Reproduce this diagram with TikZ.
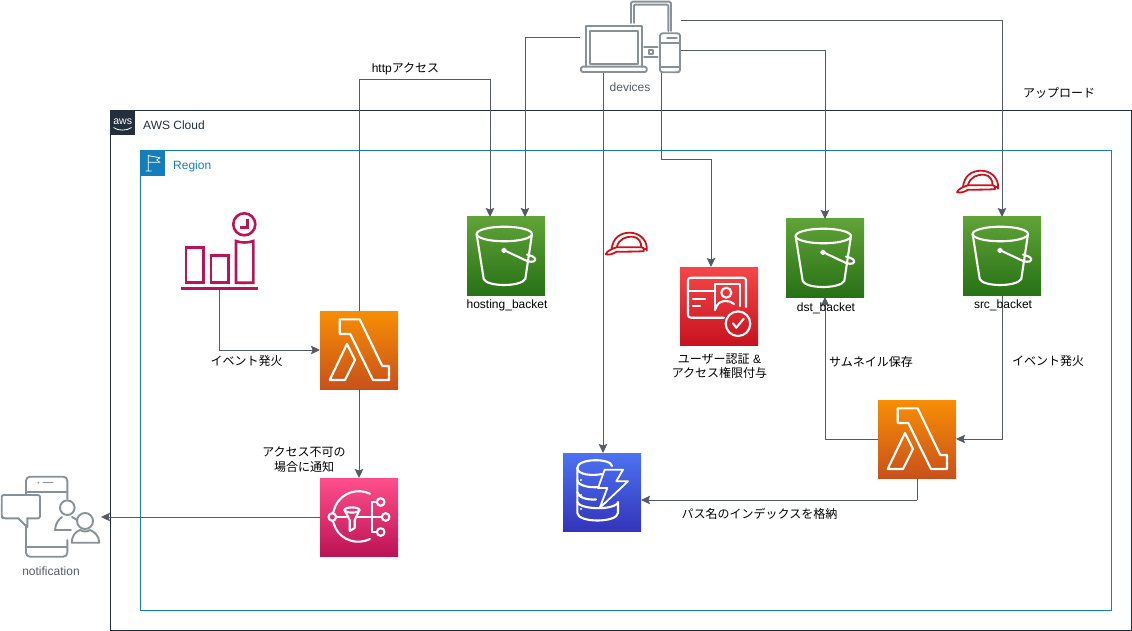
\documentclass[tikz,border=0pt]{standalone}
\usepackage{fontspec}
\setmainfont{Liberation Sans}
\newfontfamily\jp{Noto Sans CJK JP}
\usetikzlibrary{arrows.meta,calc}
\definecolor{awsdark}{HTML}{232F3E}
\definecolor{regionblue}{HTML}{147EBA}
\definecolor{conn}{HTML}{545B64}
\definecolor{icongray}{HTML}{879196}
\definecolor{crim}{HTML}{BC1356}
\definecolor{helm}{HTML}{D0111B}
\tikzset{
  svc/.style={minimum width=78,minimum height=78,inner sep=0,outer sep=0,anchor=north west,shading angle=0},
  wl/.style={draw=white,line width=2.1,line join=round,line cap=round},
  gl/.style={draw=icongray,line width=1.9,line join=round,line cap=round},
  cl/.style={draw=crim,line width=2.6,line join=miter},
  hl/.style={draw=helm,line width=1.8,line join=round,line cap=round},
  lab/.style={font=\fontsize{12}{14.5}\selectfont,text=black,inner sep=0,align=center},
  glab/.style={font=\fontsize{12}{15}\selectfont,text=conn,inner sep=0},
  link/.style={draw=conn,line width=1,-{Stealth[length=9,width=8.5,inset=1.5]}},
  plainlink/.style={draw=conn,line width=1},
  lambdaicon/.pic={
    \draw[wl] (19.7,8.3)--(39.7,8.3)--(62.3,55)--(69,55)--(69,69)--(53,69)--(30.3,23)--(19.7,23)--cycle;
    \draw[wl] (27,33)--(35,49)--(25,69)--(9.7,69)--cycle;
  },
  bucketicon/.pic={
    \draw[wl] (37.3,17) ellipse (27.7 and 7.3);
    \draw[wl] (9.6,17)--(16.7,62) .. controls (20,70) and (54,70) .. (58.3,62)--(65,17);
    \draw[wl] (37,33.3) circle (1.8);
    \draw[wl] (38.8,34) -- (60,44) .. controls (66,46) and (69,44) .. (68,41.5) .. controls (67,39.5) and (62,38) .. (60,37.5);
  },
  snsicon/.pic={
    \draw[wl] (50,15.7) .. controls (38,10) and (22,14) .. (15.5,28) .. controls (14.5,30.5) and (13.5,33) .. (13,35);
    \draw[wl] (50,61) .. controls (38,67) and (22,63) .. (15.5,50) .. controls (14.5,47.5) and (13.5,45) .. (13,43);
    \draw[wl] (12.3,39) circle (3.8);
    \draw[wl] (16.5,39)--(26,39);
    \draw[wl] (32,32) ellipse (7.5 and 2.6);
    \draw[wl] (24.5,32)--(29.7,42)--(29.7,53)--(34.7,50)--(34.7,42)--(39.5,32);
    \draw[wl] (37,39)--(61,39);
    \draw[wl] (52.3,24)--(52.3,54);
    \draw[wl] (52.3,24)--(56.5,24);
    \draw[wl] (52.3,54)--(56.5,54);
    \draw[wl] (60.7,24) circle (3.8);
    \draw[wl] (65.7,39) circle (3.8);
    \draw[wl] (60.7,54) circle (3.8);
  },
  dynamoicon/.pic={
    \draw[wl] (14.3,15) .. controls (14.3,5) and (48,5) .. (49,13);
    \draw[wl] (14.3,15) .. controls (14.3,22) and (30,23) .. (39,21);
    \draw[wl] (14.3,15)--(14.3,60) .. controls (15,70) and (54,70) .. (55,60)--(55,49);
    \draw[wl] (14.3,27) .. controls (15,33) and (27,35) .. (36,34);
    \draw[wl] (14.3,39) .. controls (15,45) and (25,47) .. (33,46.5);
    \draw[wl] (14.3,49) .. controls (16,56) and (48,58) .. (55,50);
    \fill[white] (18,27) circle (1.2) (18,42) circle (1.2) (18,56) circle (1.2);
    \draw[wl,line width=1.8] (41.7,16.7)--(60,16.7)--(53.3,28.3)--(65,28.3)--(36.7,55)--(44.3,35)--(35,35)--cycle;
  },
  cognitoicon/.pic={
    \draw[wl] (44,50.7)--(11,50.7) .. controls (9,50.7) and (8,49.7) .. (8,48)--(8,13.5) .. controls (8,11.7) and (9,10.7) .. (11,10.7)--(63,10.7) .. controls (65,10.7) and (66,11.7) .. (66,13.5)--(66,40);
    \draw[wl] (8,24)--(35,24);
    \draw[wl] (13,32)--(25,32);
    \draw[wl] (13,39)--(20,39);
    \draw[wl] (35,43)--(35,17)--(60,17)--(60,39);
    \draw[wl] (46.3,25.7) circle (5);
    \draw[wl] (35.5,42) .. controls (37,36) and (41,34) .. (46,34) .. controls (49,34) and (52,35) .. (54,37);
    \draw[wl] (58,56.7) circle (12.3);
    \draw[wl] (53,56.3)--(56.3,60.7)--(63.7,51.7);
  },
  helmeticon/.pic={
    \draw[hl] (6,16.5) .. controls (7,5) and (15,0) .. (24,0) .. controls (33,0) and (40,6) .. (41,14)--(41,18);
    \draw[hl] (11,14.5) .. controls (13,6) and (21,3.5) .. (27,4) .. controls (33,4.5) and (36,10) .. (35.5,14.5);
    \draw[hl] (0,21.5) .. controls (2,17.5) and (6,16.5) .. (11,14.5)--(35.5,14.5)--(38,15.5)--(38,18.5) .. controls (28,19) and (18,19) .. (11,19) .. controls (7,21.5) and (3,22.5) .. (0,21.5);
    \draw[hl] (38,16)--(41,16);
  }
}
\begin{document}
\begin{tikzpicture}[x=1pt,y=-1pt]
\useasboundingbox (0,0) rectangle (1132,631);
% groups
\node[draw=awsdark,line width=1,minimum width=1021,minimum height=520,inner sep=0,outer sep=0,anchor=north west] (cloud) at (110.5,110.5) {};
\node[draw=regionblue,line width=1,minimum width=971,minimum height=459,inner sep=0,outer sep=0,anchor=north west] (region) at (140.5,151) {};
\node[fill=awsdark,minimum size=25,inner sep=0,anchor=north west] (awslogo) at (110,110) {\textcolor{white}{\fontsize{10.5}{10}\selectfont\raisebox{2.5pt}{aws}}};
\draw[white,line width=0.8] (113.5,127.5) .. controls (118,131) and (127,131) .. (131.5,127.5);
\node[fill=regionblue,minimum size=25,inner sep=0,anchor=north west] (flag) at (140,151) {};
\draw[white,line width=0.8,line join=round] (148.3,155) -- (148.3,171) (145.7,171)--(151.7,171) (148.3,155.7)--(160,157.7)--(156.7,160)--(160,162.3)--(148.3,162.3);
\node[glab,text=awsdark,anchor=west] (cloudlab) at (143,125.2) {AWS Cloud};
\node[glab,text=regionblue,anchor=west] (regionlab) at (173,166) {Region};

% service boxes
\node[svc,bottom color={rgb,255:red,200;green,81;blue,27},top color={rgb,255:red,247;green,142;blue,4}] (lam1) at (320,311) {};
\node[svc,bottom color={rgb,255:red,200;green,81;blue,27},top color={rgb,255:red,247;green,142;blue,4}] (lam2) at (878,400) {};
\node[svc,bottom color={rgb,255:red,188;green,19;blue,86},top color={rgb,255:red,255;green,79;blue,139}] (sns) at (320,478) {};
\node[svc,bottom color={rgb,255:red,51;green,52;blue,185},top color={rgb,255:red,77;green,114;blue,243}] (dyn) at (563,453) {};
\node[svc,bottom color={rgb,255:red,199;green,19;blue,31},top color={rgb,255:red,245;green,71;blue,73}] (cog) at (680,267) {};
\node[svc,bottom color={rgb,255:red,39;green,113;blue,22},top color={rgb,255:red,96;green,163;blue,55}] (host) at (467,217) {};
\node[svc,bottom color={rgb,255:red,39;green,113;blue,22},top color={rgb,255:red,96;green,163;blue,55}] (dst) at (786,219) {};
\node[svc,bottom color={rgb,255:red,39;green,113;blue,22},top color={rgb,255:red,96;green,163;blue,55}] (src) at (963,217) {};
\pic at (lam1.north west) {lambdaicon};
\pic at (lam2.north west) {lambdaicon};
\pic at (sns.north west) {snsicon};
\pic at (dyn.north west) {dynamoicon};
\pic at (cog.north west) {cognitoicon};
\pic at (host.north west) {bucketicon};
\pic at (dst.north west) {bucketicon};
\pic at (src.north west) {bucketicon};

% devices icon
\node[minimum width=101,minimum height=72.5,inner sep=0,outer sep=0,anchor=north west] (devices) at (580,0.5) {};
\draw[gl] (586,66.7)--(586,26)--(641.7,26)--(641.7,66.7);
\draw[gl] (590,64)--(590,30.7)--(637.7,30.7)--(637.7,64)--cycle;
\draw[gl,rounded corners=1.5] (581,66.7) rectangle (646.7,72);
\draw[gl,rounded corners=1.5] (631,23)--(631,1.7)--(671,1.7)--(671,31);
\draw[gl,rounded corners=1] (634,23)--(634,4.7)--(668.3,4.7)--(668.3,31);
\draw[gl,rounded corners=2.5] (660,33.3) rectangle (680,72.3);
\draw[gl] (660,42.7)--(680,42.7) (660,66.7)--(680,66.7);
\draw[gl,line width=1.3] (667,38)--(677,38);
\draw[gl] (644,46.7)--(657.7,46.7) (644,56.7)--(657.7,56.7);
\draw[gl,line width=1.2] (649,50) rectangle (653,54);

% event icon
\node[minimum width=78,minimum height=78,inner sep=0,outer sep=0,anchor=north west] (event) at (180.5,212) {};
\draw[cl] (186,247.7) rectangle (203.3,282.7);
\draw[cl] (211,255.7) rectangle (228.3,282.7);
\draw[cl] (236,241) .. controls (241,243) and (248,243) .. (253.3,241)--(253.3,282.7)--(236,282.7)--cycle;
\draw[cl,line width=2.8] (180.7,288.7)--(258.3,288.7);
\draw[cl] (244.3,224.3) circle (11);
\draw[cl] (247.7,219)--(247.7,227.7)--(240,227.7);

% notification icon
\node[minimum width=100,minimum height=82,inner sep=0,outer sep=0,anchor=north west] (notif) at (1,476) {};
\draw[gl,rounded corners=4] (26,495)--(26,476.7)--(67.3,476.7)--(67.3,499);
\draw[gl,rounded corners=4] (26,525)--(26,556.7)--(67.3,556.7)--(67.3,540);
\draw[gl] (26,491.7)--(67.3,491.7);
\draw[gl] (26,547.3)--(67.3,547.3);
\fill[icongray] (38.3,482.7) circle (1);
\draw[gl,line width=1.2] (43.3,482.7)--(52.7,482.7);
\draw[gl,rounded corners=2] (18.3,518.3)--(3,518.3)--(1.7,517)--(1.7,495)--(40,495)--(40,518.3)--(27.3,518.3);
\draw[gl] (18.3,518.3)--(27.3,527.3)--(27.3,518.3);
\draw[gl,fill=white] (67.3,507.7) circle (7.3);
\draw[gl] (55,530) .. controls (55.5,523) and (59,519) .. (62,517);
\draw[gl] (55,530)--(71,530);
\draw[gl] (72,517) .. controls (74,518) and (75.5,519) .. (77,520);
\draw[gl,fill=white] (85,521) circle (8);
\draw[gl] (71.7,542.7) .. controls (72,536) and (75,532) .. (80,530) .. controls (84,532) and (87,532) .. (90,530) .. controls (95,532) and (99,536) .. (99.3,542.7)--cycle;

% helmets
\pic at (605.7,232.7) {helmeticon};
\pic at (957,170.7) {helmeticon};

% connectors
\draw[link] ([yshift=-20]devices.north east) -| (src.north);
\draw[link] ([yshift=-50]devices.north east) -| (dst.north);
\draw[link] ([yshift=-37]devices.north west) -| ([xshift=19]host.north);
\draw[link] ([xshift=23]devices.south west) -- ([xshift=23]devices.south west |- dyn.north);
\coordinate (cogbend) at (661,160);
\draw[link] ([xshift=81]devices.south west) -- (cogbend) -| ([xshift=-8]cog.north);
\coordinate (httpbend) at (359,80);
\draw[link] (lam1.north) -- (httpbend) -| ([xshift=-16]host.north);
\draw[link] (event.south) |- (lam1.west);
\draw[link] (lam1.south) -- (sns.north);
\draw[link] (sns.west) -- (notif.east);
\draw[link] (src.south) |- (lam2.east);
\draw[link] (lam2.west) -| (dst.south);
\coordinate (pathbend) at (917,500);
\draw[plainlink] (lam2.south) -- (pathbend);
\draw[link] (pathbend) -- (dyn.east |- pathbend);

% labels
\node[lab] (lhttp) at (405.5,68.7) {http{\jp アクセス}};
\node[lab] (lup) at (1059,92.7) {\jp アップロード};
\node[glab] (ldev) at (630,87.5) {devices};
\node[lab] (lhost) at (507,305) {hosting\_backet};
\node[lab] (ldst) at (826,308) {dst\_backet};
\node[lab] (lsrc) at (1003,305) {src\_backet};
\node[lab] (lcog) at (719.5,366) {{\jp ユーザー認証} \&\\{\jp アクセス権限付与}};
\node[lab] (lev1) at (246.5,360.7) {\jp イベント発火};
\node[lab] (lev2) at (1048,360.7) {\jp イベント発火};
\node[lab] (lsam) at (871,361.7) {\jp サムネイル保存};
\node[lab] (lacc) at (304,459.5) {\jp アクセス不可の\\\jp 場合に通知};
\node[lab] (lpath) at (759.5,513.7) {\jp パス名のインデックスを格納};
\node[glab] (lnot) at (51,571.5) {notification};
\end{tikzpicture}
\end{document}
